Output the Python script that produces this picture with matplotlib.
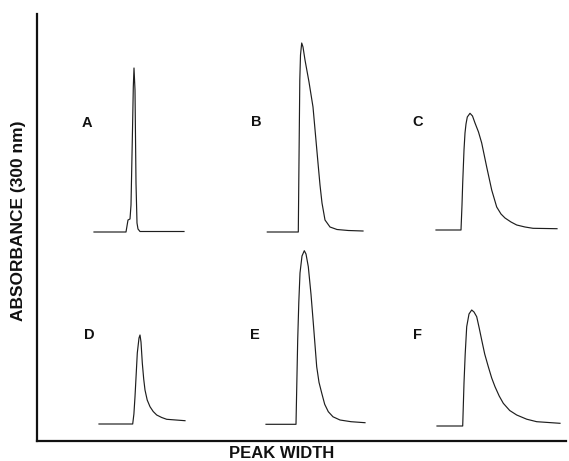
import matplotlib
matplotlib.use("Agg")
import matplotlib.pyplot as plt

plt.rcParams['font.family'] = ['Liberation Sans', 'DejaVu Sans']

# Elution traces: time after injection (t) and absorbance above baseline (a)
t_A = [-32, 0, 1, 2, 4, 5, 6.5, 7.3, 8, 9, 10, 11, 12, 14, 58]
a_A = [0, 0, 6, 12, 13, 27, 102, 145, 164, 142, 49, 9, 3, 0.5, 0.5]

t_B = [-31, 0, 0.5, 1, 1.5, 2.2, 3.4, 4.7, 6.7, 10.7, 14.7, 17.2, 19.7, 21.7,
       23.7, 26.7, 31.7, 38.7, 50, 64.7]
a_B = [0, 0, 52, 102, 152, 177, 189, 185, 172, 150, 125, 97, 69, 47,
       29, 12, 5, 2.5, 1.5, 1]

t_C = [-25, 0, 1, 1.7, 3, 4, 5, 6.3, 9, 11.5, 14, 17.5, 20.7, 25.7, 30.7,
       35.7, 40, 44, 50, 55.7, 64, 72, 96]
a_C = [0, 0, 25, 47, 80, 97, 106, 113, 116.7, 114, 107, 98, 87, 63, 40,
       23, 16, 12, 8, 5, 3, 1.7, 1.3]

t_D = [-33.7, 0, 1.2, 2.3, 3.5, 4.6, 6.3, 7.3, 8.3, 9.6, 11, 12.3, 14.5, 17.3,
       20.5, 24, 29, 34, 52.3]
a_D = [0, 0, 10, 27.3, 50, 71, 86, 89, 82, 61, 45, 34, 24, 17.3,
       12.5, 9, 6.5, 4.7, 3.3]

t_E = [-30, 0, 0.8, 1.7, 2.8, 4, 6, 8.3, 10, 12.3, 15, 17.3, 20.7, 23,
       25.7, 28.7, 32.3, 37, 44, 55, 69]
a_E = [0, 0, 40, 84.3, 122, 151.3, 168.3, 173.6, 170.3, 157.6, 130, 101.3,
       57.6, 42, 31.3, 20, 12.6, 7.5, 4.3, 2.6, 1.6]

t_F = [-25.7, 0, 1.3, 2.5, 4, 6.3, 9, 11.3, 14, 16.5, 19, 22, 25.6, 29,
       32.3, 36.5, 40.6, 47, 54, 64, 74, 97.3]
a_F = [0, 0, 43, 72, 99.3, 112, 116, 114, 109.3, 98, 86, 72, 59.3, 48,
       39.3, 30, 22.7, 15.5, 11, 6.8, 4.3, 2.7]

labels = ["A", "B", "C", "D", "E", "F"]
traces = [(t_A, a_A), (t_B, a_B), (t_C, a_C), (t_D, a_D), (t_E, a_E), (t_F, a_F)]

# Where each trace sits on the shared time / absorbance frame
inject_x = [89, 261.3, 424, 95.7, 259, 425.7]
baseline_y = [209, 209, 211, 17, 16.7, 15]
label_xy = [(50, 318), (219, 319), (381, 319), (52, 106), (218, 106), (381, 106)]

W, H = 569, 461
fig = plt.figure(figsize=(W / 100, H / 100), dpi=100)
ax_left, ax_bottom, ax_right, ax_top = 37, 441, 566, 14
ax = fig.add_axes([ax_left / W, (H - ax_bottom) / H,
                   (ax_right - ax_left) / W, (ax_bottom - ax_top) / H])
ax.set_xlim(0, ax_right - ax_left)
ax.set_ylim(0, ax_bottom - ax_top)

for (t, a), x0, y0 in zip(traces, inject_x, baseline_y):
    ax.plot([x0 + v for v in t], [y0 + v for v in a],
            color="#1e1e1e", lw=0.85, solid_joinstyle="round")

for lab, (lx, ly) in zip(labels, label_xy):
    ax.text(lx, ly, lab, ha="center", va="center", fontsize=10.5,
            fontweight="bold", color="#111111")

for side in ("top", "right"):
    ax.spines[side].set_visible(False)
for side in ("left", "bottom"):
    ax.spines[side].set_linewidth(1.6)
    ax.spines[side].set_color("#111111")
ax.set_xticks([])
ax.set_yticks([])

fig.text(282 / W, 1 - 453 / H, "PEAK WIDTH", ha="center", va="center",
         fontsize=12, fontweight="bold", color="#111111")
fig.text(19 / W, 1 - 221 / H, "ABSORBANCE (300 nm)", ha="center", va="center",
         rotation=90, fontsize=12.5, fontweight="bold", color="#111111")

fig.savefig("out.png", dpi=100)
